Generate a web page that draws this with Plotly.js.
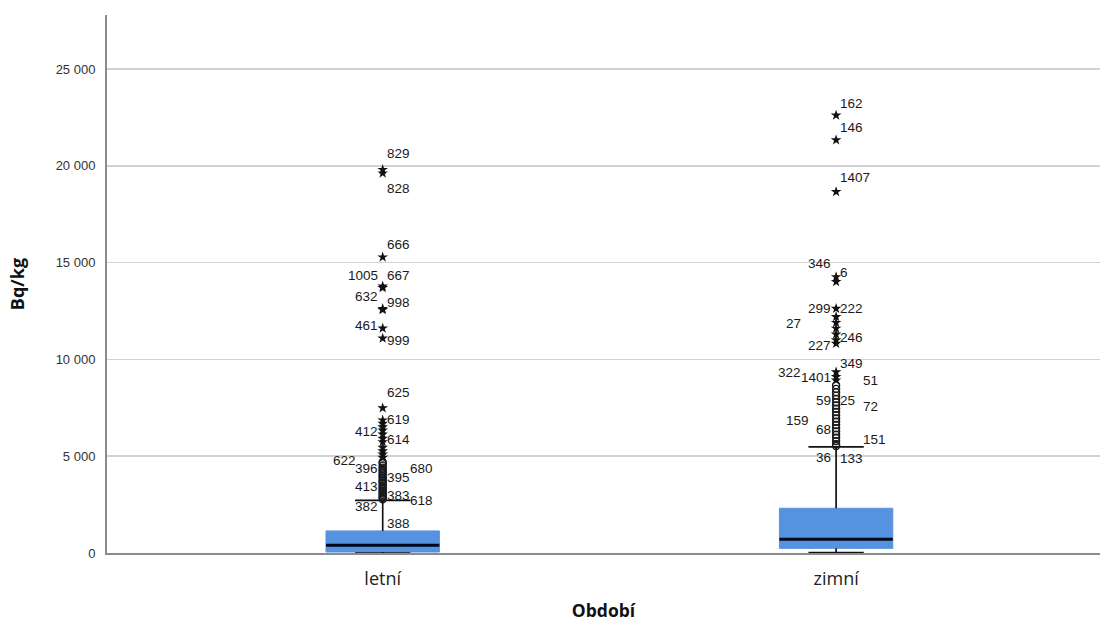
<!DOCTYPE html>
<html>
<head>
<meta charset="utf-8">
<script src="https://cdn.plot.ly/plotly-3.0.1.min.js"></script>
<style>html,body{margin:0;padding:0;background:#fff;}#chart{width:1101px;height:626px;}</style>
</head>
<body>
<div id="chart"></div>
<script>
// ---- data ----
const categories = ['letní', 'zimní'];
const q1 = [50, 240];
const median = [400, 710];
const q3 = [1140, 2310];
const lowerFence = [0, 20];
const upperFence = [2720, 5480];

const tickValues = [0, 5000, 10000, 15000, 20000, 25000];
const tickLabels = ['0', '5 000', '10 000', '15 000', '20 000', '25 000'];

// extreme outliers (stars)
const extremeLetni = [19800, 19620, 15280, 13780, 13700, 12620, 12560, 11610, 11090, 7490,
  6860, 6690, 6510, 6340, 6130, 5910, 5740, 5450, 5270, 5100, 4930];
const extremeZimni = [22610, 21330, 18660, 14260, 14010, 12630, 12200, 11900, 11600, 11300,
  11000, 10820, 9350, 9100, 8930];
// mild outliers (circles)
const mildLetni = [4700, 4640, 4520, 4410, 4330, 4240, 4150, 4060, 3980, 3900, 3810, 3720,
  3650, 3570, 3480, 3400, 3310, 3230, 3150, 3070, 2990, 2920, 2850, 2780];
const mildZimni = [8670, 8480, 8300, 8130, 7960, 7790, 7620, 7450, 7280, 7120, 6950, 6780,
  6610, 6450, 6280, 6110, 5950, 5780, 5620, 5530];

// case labels
const labelTextLetni = ['829', '828', '666', '1005', '667', '632', '998', '461', '999', '625',
  '619', '412', '614', '622', '396', '680', '395', '413', '383', '618', '382', '388'];
const labelYLetni = [20660, 18850, 15950, 14350, 14350, 13270, 12960, 11770, 10990, 8290,
  6890, 6300, 5860, 4790, 4360, 4360, 3900, 3450, 2980, 2720, 2380, 1520];
const labelSideLetni = ['R', 'R', 'R', 'L', 'R', 'L', 'R', 'L', 'R', 'R',
  'R', 'L', 'R', 'LL', 'L', 'RR', 'R', 'L', 'R', 'RR', 'L', 'R'];

const labelTextZimni = ['162', '146', '1407', '346', '6', '299', '222', '27', '246', '227',
  '349', '322', '1401', '51', '59', '25', '72', '159', '68', '151', '36', '133'];
const labelYZimni = [23240, 22000, 19420, 14970, 14510, 12650, 12650, 11870, 11150, 10730,
  9800, 9340, 9080, 8920, 7890, 7890, 7580, 6860, 6390, 5880, 4950, 4890];
const labelSideZimni = ['R', 'R', 'R', 'L', 'R', 'L', 'R', 'LLL', 'R', 'L',
  'R', 'LLL', 'L', 'RR', 'L', 'R', 'RR', 'LL', 'L', 'RR', 'L', 'R'];

// ---- styling ----
const boxBlue = '#5592e0';
const boxWidth = 0.25;
const capHalf = 0.061;
const shiftMap = {L: -4, LL: -26, LLL: -34, R: 3, RR: 26};

const traces = [];
const xs = categories.map((c, i) => i);

traces.push({
  type: 'box', x: xs, q1: q1, median: median, q3: q3,
  lowerfence: lowerFence, upperfence: upperFence,
  width: boxWidth, fillcolor: boxBlue,
  line: {color: boxBlue, width: 1}, whiskerwidth: 0,
  boxpoints: false, hoverinfo: 'skip', showlegend: false
});

// whiskers and caps
const wx = [], wy = [];
xs.forEach(i => {
  wx.push(i, i, null, i - capHalf, i + capHalf, null, i, i, null, i - capHalf, i + capHalf, null);
  wy.push(q3[i], upperFence[i], null, upperFence[i], upperFence[i], null,
          q1[i], lowerFence[i], null, lowerFence[i], lowerFence[i], null);
});
traces.push({type: 'scatter', mode: 'lines', x: wx, y: wy,
  line: {color: '#111', width: 1.6}, hoverinfo: 'skip', showlegend: false});

// medians
const mx = [], my = [];
xs.forEach(i => {
  mx.push(i - boxWidth / 2, i + boxWidth / 2, null);
  my.push(median[i], median[i], null);
});
traces.push({type: 'scatter', mode: 'lines', x: mx, y: my,
  line: {color: '#02081c', width: 3}, hoverinfo: 'skip', showlegend: false});

// outliers
[[mildLetni, 0], [mildZimni, 1]].forEach(([vals, i]) => {
  traces.push({type: 'scatter', mode: 'markers', x: vals.map(() => i), y: vals,
    marker: {symbol: 'circle-open', size: 7, color: '#1a1a1a', line: {width: 1.4}},
    hoverinfo: 'y', showlegend: false});
});
[[extremeLetni, 0], [extremeZimni, 1]].forEach(([vals, i]) => {
  traces.push({type: 'scatter', mode: 'markers', x: vals.map(() => i), y: vals,
    marker: {symbol: 'star', size: 8, color: '#111', line: {width: 0}},
    hoverinfo: 'y', showlegend: false});
});

// label annotations
const annotations = [];
function addLabels(texts, ys, sides, i) {
  texts.forEach((t, k) => {
    const s = sides[k];
    annotations.push({
      x: i, y: ys[k], xref: 'x', yref: 'y', text: t, showarrow: false,
      xanchor: s.startsWith('L') ? 'right' : 'left', yanchor: 'middle',
      xshift: shiftMap[s], borderpad: 0,
      font: {family: 'Liberation Sans, Arial, sans-serif', size: 13.5, color: '#1a1a1a'}
    });
  });
}
addLabels(labelTextLetni, labelYLetni, labelSideLetni, 0);
addLabels(labelTextZimni, labelYZimni, labelSideZimni, 1);

const layout = {
  width: 1101, height: 626,
  margin: {l: 107, r: 1, t: 15, b: 73},
  paper_bgcolor: '#ffffff', plot_bgcolor: '#ffffff',
  showlegend: false,
  xaxis: {
    range: [-0.608, 1.582], tickvals: xs, ticktext: categories,
    showgrid: false, zeroline: false, showline: true, linecolor: '#8c8c8c', linewidth: 2,
    ticks: '', ticklabelstandoff: 8,
    tickfont: {family: 'Open Sans, Noto Sans, sans-serif', size: 18, color: '#222'},
    title: {text: 'Období', standoff: 16,
      font: {family: 'Open Sans, Noto Sans, sans-serif', size: 17.5, color: '#111', weight: 'bold'}}
  },
  yaxis: {
    range: [0, 27790], tickvals: tickValues, ticktext: tickLabels,
    showgrid: true, gridcolor: '#d2d2d2', gridwidth: 1.5,
    zeroline: false, showline: true, linecolor: '#8c8c8c', linewidth: 2,
    ticks: '', ticklabelstandoff: 7,
    tickfont: {family: 'Liberation Sans, Arial, sans-serif', size: 13, color: '#333'},
    title: {text: 'Bq/kg', standoff: 26,
      font: {family: 'Open Sans, Noto Sans, sans-serif', size: 18, color: '#111', weight: 'bold'}}
  },
  annotations: annotations
};

Plotly.newPlot('chart', traces, layout, {displayModeBar: false, staticPlot: true});
</script>
</body>
</html>
